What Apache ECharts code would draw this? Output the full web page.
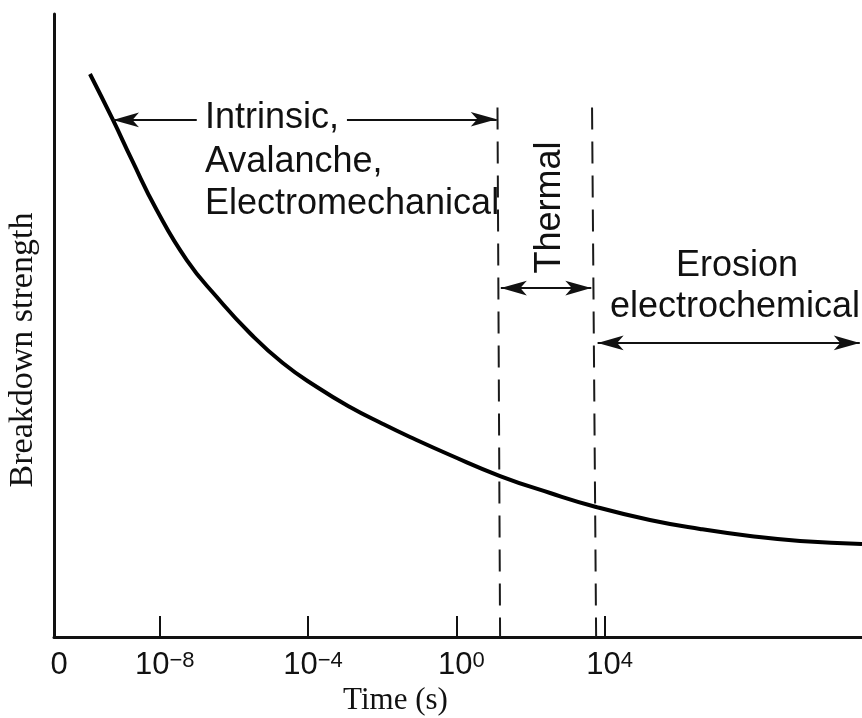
<!DOCTYPE html>
<html>
<head>
<meta charset="utf-8">
<script src="https://cdn.jsdelivr.net/npm/echarts@6/dist/echarts.min.js"></script>
<style>
  html, body { margin: 0; padding: 0; background: #ffffff; }
  #chart { width: 862px; height: 718px; }
</style>
</head>
<body>
<div id="chart"></div>
<script>
// Breakdown strength versus stressing time (time on a log scale, log10 of seconds).
const logTime = [-9.88, -9.26, -8.75, -8.08, -7.27, -6.46, -5.57, -4.68, -3.76, -2.87,
                 -1.98, -1.25, -0.17, 1.18, 2.53, 3.77, 5.22, 6.57, 7.92, 9.27, 10.94];
const strength = [90.37, 82.99, 76.57, 68.54, 60.51, 54.57, 48.80, 43.98, 40.13, 36.92,
                  34.19, 32.10, 29.21, 25.84, 23.11, 20.87, 18.78, 17.34, 16.21, 15.41, 14.93];

// Decade ticks shown on the time axis
const tickExponents = [-8, -4, 0, 4];
const xMin = -10.85;
const xMax = 10.94;

// Mechanism boundaries (log10 t at top and at the axis) and their top height
const boundaryTops = [1.11, 3.66];
const boundaryBottoms = [1.18, 3.77];
const boundaryHeight = 85;

// Range arrows: [from, to, height, arrowhead at start, arrowhead at end]
const arrowSpans = [
  [-7.0, -9.26, 83.0, false, true],
  [-2.95, 1.09, 83.1, false, true],
  [1.20, 3.64, 56.0, true, true],
  [3.81, 10.88, 47.2, true, true]
];

const mechanismLabels = ['Intrinsic,', 'Avalanche,', 'Electromechanical'];

const chart = echarts.init(document.getElementById('chart'), null, { renderer: 'canvas' });

const curve = logTime.map((t, i) => [t, strength[i]]);

const boundarySeries = boundaryTops.map((top, i) => ({
  type: 'line',
  data: [[top, boundaryHeight], [boundaryBottoms[i], 0]],
  symbol: 'none',
  silent: true,
  lineStyle: { color: '#1a1a1a', width: 2, type: [22, 12] },
  z: 2
}));

const arrowLines = arrowSpans.map(a => [
  { coord: [a[0], a[2]], symbol: a[3] ? 'arrow' : 'none', symbolSize: [11, 26] },
  { coord: [a[1], a[2]], symbol: a[4] ? 'arrow' : 'none', symbolSize: [11, 26] }
]);

const sansFont = '36px "Liberation Sans", Arial, sans-serif';
const serifFont = '"Liberation Serif", "Times New Roman", serif';

function supLabel(v) {
  if (v === xMin) return '{b|0}';
  const e = v < 0 ? '\u2212' + (-v) : String(v);
  return '{b|10}{s|' + e + '}';
}

const option = {
  backgroundColor: '#ffffff',
  animation: false,
  grid: { left: 54, right: 0, top: 14, bottom: 81, containLabel: false },
  xAxis: {
    type: 'value',
    min: xMin,
    max: xMax,
    axisLine: { show: true, onZero: false, lineStyle: { color: '#111', width: 3 } },
    axisTick: {
      show: true, inside: true, length: 21,
      customValues: tickExponents,
      lineStyle: { color: '#111', width: 2 }
    },
    axisLabel: {
      show: true,
      customValues: [xMin].concat(tickExponents),
      formatter: supLabel,
      margin: 13,
      padding: [0, 0, 0, 10],
      rich: {
        b: { fontFamily: '"Liberation Sans", Arial, sans-serif', fontSize: 31, lineHeight: 31, color: '#111' },
        s: { fontFamily: '"Liberation Sans", Arial, sans-serif', fontSize: 22, lineHeight: 25, color: '#111', verticalAlign: 'top' }
      }
    },
    splitLine: { show: false }
  },
  yAxis: {
    type: 'value',
    min: 0,
    max: 100,
    axisLine: { show: true, onZero: false, lineStyle: { color: '#111', width: 3 } },
    axisTick: { show: false },
    axisLabel: { show: false },
    splitLine: { show: false }
  },
  series: [
    {
      type: 'line',
      data: curve,
      smooth: 0.5,
      symbol: 'none',
      silent: true,
      lineStyle: { color: '#000', width: 4 },
      z: 3
    }
  ].concat(boundarySeries).concat([
    {
      type: 'line',
      data: [],
      silent: true,
      markLine: {
        silent: true,
        animation: false,
        label: { show: false },
        lineStyle: { color: '#111', width: 2, type: 'solid' },
        emphasis: { disabled: true },
        data: arrowLines
      }
    }
  ]),
  graphic: [
    { type: 'text', x: 205, y: 118.5, silent: true,
      style: { text: mechanismLabels[0], font: sansFont, fill: '#111', textAlign: 'left', textVerticalAlign: 'middle' } },
    { type: 'text', x: 205, y: 162, silent: true,
      style: { text: mechanismLabels[1], font: sansFont, fill: '#111', textAlign: 'left', textVerticalAlign: 'middle' } },
    { type: 'text', x: 205, y: 204, silent: true,
      style: { text: mechanismLabels[2], font: sansFont, fill: '#111', textAlign: 'left', textVerticalAlign: 'middle' } },
    { type: 'text', x: 550, y: 207.5, rotation: Math.PI / 2, silent: true,
      style: { text: 'Thermal', font: sansFont, fill: '#111', textAlign: 'center', textVerticalAlign: 'middle' } },
    { type: 'text', x: 737, y: 266, silent: true,
      style: { text: 'Erosion', font: sansFont, fill: '#111', textAlign: 'center', textVerticalAlign: 'middle' } },
    { type: 'text', x: 735, y: 307.5, silent: true,
      style: { text: 'electrochemical', font: sansFont, fill: '#111', textAlign: 'center', textVerticalAlign: 'middle' } },
    { type: 'text', x: 395.5, y: 701, silent: true,
      style: { text: 'Time (s)', font: '31px ' + serifFont, fill: '#111', textAlign: 'center', textVerticalAlign: 'middle' } },
    { type: 'text', x: 23.5, y: 350, rotation: Math.PI / 2, silent: true,
      style: { text: 'Breakdown strength', font: '34px ' + serifFont, fill: '#111', textAlign: 'center', textVerticalAlign: 'middle' } }
  ]
};

chart.setOption(option);
</script>
</body>
</html>
